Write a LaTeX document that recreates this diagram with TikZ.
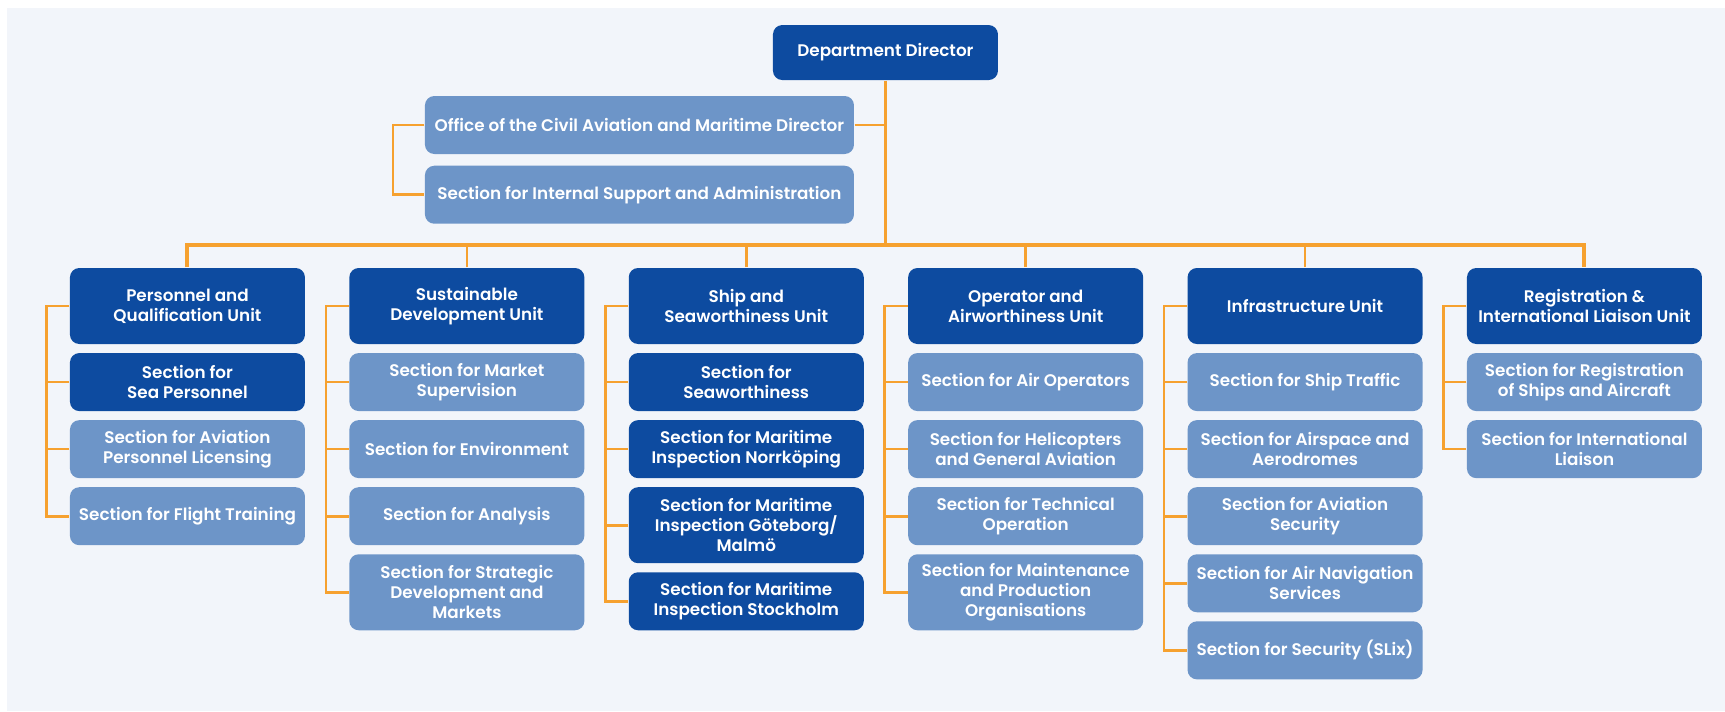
\documentclass[tikz,border=0pt]{standalone}
\usepackage{fontspec}
\setmainfont{Poppins}[BoldFont={Poppins SemiBold}]
\usepackage{xcolor}
\usepackage{tikz}
\usetikzlibrary{shapes,arrows,positioning,calc}

\definecolor{darkblue}{HTML}{0D4BA0}
\definecolor{lightblue}{HTML}{6D95C8}
\definecolor{orangeline}{HTML}{F6A12F}
\definecolor{bgcolor}{HTML}{F2F5FA}

\begin{document}
\begin{tikzpicture}[node distance=6pt, thick]
    % Styles
    \tikzstyle{box} = [rectangle, rounded corners=7pt, text=white, align=center, inner xsep=2pt, font=\fontsize{12.6}{15}\selectfont\bfseries]
    \tikzstyle{head} = [box, fill=darkblue, minimum width=168.75pt, minimum height=41.25pt]
    \tikzstyle{unit} = [box, fill=darkblue, minimum width=176.25pt, minimum height=57pt]
    \tikzstyle{section} = [box, fill=lightblue, minimum width=176.25pt, minimum height=43.5pt]
    \tikzstyle{dark section} = [section, fill=darkblue]
    \tikzstyle{tall} = [minimum height=57pt]
    \tikzstyle{link} = [draw=orangeline, line width=2pt]
    \tikzstyle{bus} = [draw=orangeline, line width=3pt]

    % Background
    \useasboundingbox (0,0) rectangle (1293.75pt,-533.25pt);
    \fill [bgcolor] (5.25pt,-6pt) rectangle (1293.75pt,-533.25pt);

    % Director and office
    \node [head] (Dir) at (664.1pt,-39.4pt) {Department Director};
    \node [section, minimum width=321.75pt] (Office) at (479.6pt,-93.75pt) {Office of the Civil Aviation and Maritime Director};
    \node [section, minimum width=321.75pt, below=8pt of Office] (Admin) {Section for Internal Support and Administration};

    % Units
    \node [unit] (PQU) at (140.6pt,-229.5pt) {Personnel and\\Qualification Unit};
    \node [unit, right=32.5pt of PQU] (SDU) {Sustainable\\Development Unit};
    \node [unit, right=32.5pt of SDU] (SSU) {Ship and\\Seaworthiness Unit};
    \node [unit, right=32.5pt of SSU] (OAU) {Operator and\\Airworthiness Unit};
    \node [unit, right=32.5pt of OAU] (IU) {Infrastructure Unit};
    \node [unit, right=32.5pt of IU] (RIU) {Registration \&\\International Liaison Unit};

    % Personnel and Qualification
    \node [dark section, below=of PQU] (SeaPers) {Section for\\Sea Personnel};
    \node [section, below=of SeaPers] (AvPers) {Section for Aviation\\Personnel Licensing};
    \node [section, below=of AvPers] (Flight) {Section for Flight Training};

    % Sustainable Development
    \node [section, below=of SDU] (Market) {Section for Market\\Supervision};
    \node [section, below=of Market] (Env) {Section for Environment};
    \node [section, below=of Env] (Analysis) {Section for Analysis};
    \node [section, tall, below=of Analysis] (Strategy) {Section for Strategic\\Development and\\Markets};

    % Ship and Seaworthiness
    \node [dark section, below=of SSU] (Seaworth) {Section for\\Seaworthiness};
    \node [dark section, below=of Seaworth] (Norr) {Section for Maritime\\Inspection Norrköping};
    \node [dark section, tall, below=of Norr] (Gbg) {Section for Maritime\\Inspection Göteborg/\\Malmö};
    \node [dark section, below=of Gbg] (Sthlm) {Section for Maritime\\Inspection Stockholm};

    % Operator and Airworthiness
    \node [section, below=of OAU] (AirOps) {Section for Air Operators};
    \node [section, below=of AirOps] (Heli) {Section for Helicopters\\and General Aviation};
    \node [section, below=of Heli] (TechOp) {Section for Technical\\Operation};
    \node [section, tall, below=of TechOp] (Maint) {Section for Maintenance\\and Production\\Organisations};

    % Infrastructure
    \node [section, below=of IU] (ShipTr) {Section for Ship Traffic};
    \node [section, below=of ShipTr] (Airsp) {Section for Airspace and\\Aerodromes};
    \node [section, below=of Airsp] (AvSec) {Section for Aviation\\Security};
    \node [section, below=of AvSec] (AirNav) {Section for Air Navigation\\Services};
    \node [section, below=of AirNav] (SLix) {Section for Security (SLix)};

    % Registration and Liaison
    \node [section, below=of RIU] (Regist) {Section for Registration\\of Ships and Aircraft};
    \node [section, below=of Regist] (Liaison) {Section for International\\Liaison};

    % Connections
    \coordinate (Bus) at (Dir.south |- 0,-183.75pt);
    \draw [link] (Dir.south) -- (Bus);
    \draw [link] (Office.east) -- (Office.east -| Dir.south);
    \draw [link] (Office.west) -- ++(-23.6pt,0) |- (Admin.west);
    \draw [bus] (PQU.north) |- (Bus) -| (RIU.north);
    \draw [link] (SDU.north) -- (SDU.north |- Bus);
    \draw [link] (SSU.north) -- (SSU.north |- Bus);
    \draw [link] (OAU.north) -- (OAU.north |- Bus);
    \draw [link] (IU.north) -- (IU.north |- Bus);

    \draw [link] (PQU.west) -- ++(-17.25pt,0) |- (Flight.west)
        (SeaPers.west) -- ++(-17.25pt,0) (AvPers.west) -- ++(-17.25pt,0);
    \draw [link] (SDU.west) -- ++(-17.25pt,0) |- (Strategy.west)
        (Market.west) -- ++(-17.25pt,0) (Env.west) -- ++(-17.25pt,0)
        (Analysis.west) -- ++(-17.25pt,0);
    \draw [link] (SSU.west) -- ++(-17.25pt,0) |- (Sthlm.west)
        (Seaworth.west) -- ++(-17.25pt,0) (Norr.west) -- ++(-17.25pt,0)
        (Gbg.west) -- ++(-17.25pt,0);
    \draw [link] (OAU.west) -- ++(-17.25pt,0) |- (Maint.west)
        (AirOps.west) -- ++(-17.25pt,0) (Heli.west) -- ++(-17.25pt,0)
        (TechOp.west) -- ++(-17.25pt,0);
    \draw [link] (IU.west) -- ++(-17.25pt,0) |- (SLix.west)
        (ShipTr.west) -- ++(-17.25pt,0) (Airsp.west) -- ++(-17.25pt,0)
        (AvSec.west) -- ++(-17.25pt,0) (AirNav.west) -- ++(-17.25pt,0);
    \draw [link] (RIU.west) -- ++(-17.25pt,0) |- (Liaison.west)
        (Regist.west) -- ++(-17.25pt,0);
\end{tikzpicture}
\end{document}
